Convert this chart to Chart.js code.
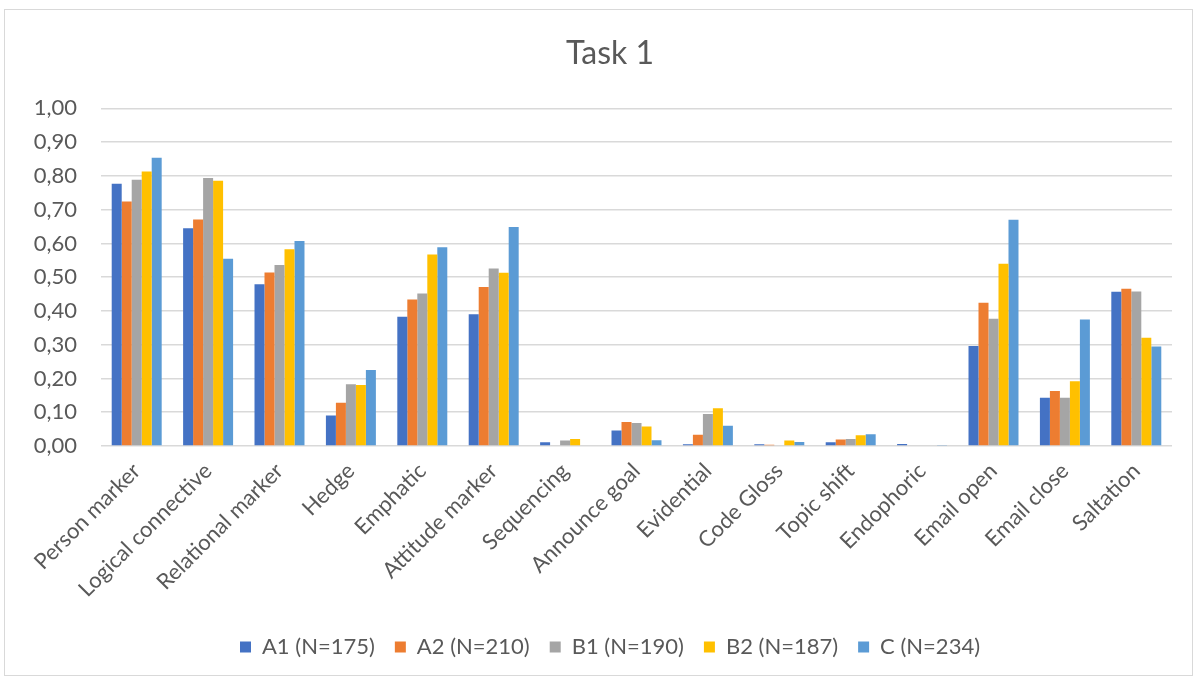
<!DOCTYPE html>
<html>
<head>
<meta charset="utf-8">
<title>Task 1</title>
<script src="https://cdn.jsdelivr.net/npm/chart.js@4/dist/chart.umd.min.js"></script>
<style>
  html, body { margin: 0; padding: 0; background: #ffffff; }
  #wrap { position: relative; width: 1197px; height: 680px; }
</style>
</head>
<body>
<div id="wrap"><canvas id="chart" width="1197" height="680"></canvas></div>
<script>
// Discourse-marker categories
const categories = [
  'Person marker', 'Logical connective', 'Relational marker', 'Hedge', 'Emphatic',
  'Attitude marker', 'Sequencing', 'Announce goal', 'Evidential', 'Code Gloss',
  'Topic shift', 'Endophoric', 'Email open', 'Email close', 'Saltation'
];

// Mean frequency per proficiency group
const seriesNames = ['A1 (N=175)', 'A2 (N=210)', 'B1 (N=190)', 'B2 (N=187)', 'C (N=234)'];
const a1 = [0.777, 0.645, 0.479, 0.090, 0.383, 0.390, 0.011, 0.046, 0.005, 0.005, 0.011, 0.006, 0.296, 0.143, 0.457];
const a2 = [0.724, 0.671, 0.514, 0.128, 0.434, 0.471, 0.000, 0.071, 0.033, 0.004, 0.019, 0.000, 0.424, 0.163, 0.466];
const b1 = [0.789, 0.794, 0.536, 0.183, 0.452, 0.526, 0.016, 0.068, 0.095, 0.000, 0.021, 0.000, 0.377, 0.143, 0.458];
const b2 = [0.813, 0.786, 0.583, 0.181, 0.567, 0.513, 0.021, 0.058, 0.112, 0.016, 0.032, 0.000, 0.540, 0.192, 0.321];
const c  = [0.854, 0.555, 0.607, 0.225, 0.589, 0.649, 0.000, 0.017, 0.060, 0.012, 0.035, 0.003, 0.670, 0.375, 0.295];

// Value axis labels (decimal comma)
const yTickLabels = ['0,00', '0,10', '0,20', '0,30', '0,40', '0,50', '0,60', '0,70', '0,80', '0,90', '1,00'];

const colors = ['#4472C4', '#ED7D31', '#A5A5A5', '#FFC000', '#5B9BD5'];
const values = [a1, a2, b1, b2, c];

const textColor = '#595959';
const fontFamily = 'Lato, "Open Sans", sans-serif';

// White background plus the light outer frame
const framePlugin = {
  id: 'frame',
  beforeDraw(chart) {
    const ctx = chart.ctx;
    ctx.save();
    ctx.fillStyle = '#ffffff';
    ctx.fillRect(0, 0, chart.width, chart.height);
    ctx.strokeStyle = '#d9d9d9';
    ctx.lineWidth = 1;
    ctx.strokeRect(4.5, 9.5, 1188, 666);
    ctx.restore();
  }
};

new Chart(document.getElementById('chart'), {
  type: 'bar',
  data: {
    labels: categories,
    datasets: seriesNames.map((name, i) => ({
      label: name,
      data: values[i],
      backgroundColor: colors[i],
      borderWidth: 0,
      categoryPercentage: 0.7,
      barPercentage: 1.0
    }))
  },
  options: {
    responsive: false,
    animation: false,
    layout: { padding: { left: 23, right: 0, top: 22, bottom: 12 } },
    plugins: {
      title: {
        display: true,
        text: 'Task 1',
        color: textColor,
        font: { family: fontFamily, size: 32, weight: 'normal' },
        padding: { top: 12, bottom: 36 }
      },
      legend: {
        position: 'bottom',
        labels: {
          color: textColor,
          font: { family: fontFamily, size: 22 },
          boxWidth: 11,
          boxHeight: 11,
          padding: 20
        }
      },
      tooltip: { enabled: false }
    },
    scales: {
      x: {
        grid: { display: false },
        border: { display: false },
        ticks: {
          color: textColor,
          font: { family: fontFamily, size: 22 },
          maxRotation: 45,
          minRotation: 45,
          autoSkip: false,
          padding: 4
        },
        // fixed label band under the plot; rotated labels may hang past the value axis
        afterFit(scale) {
          scale.paddingLeft = 0;
          scale.paddingRight = 25;
          scale.height = 170;
        }
      },
      y: {
        min: 0,
        max: 1,
        grid: { color: '#d9d9d9', lineWidth: 1.5, drawTicks: false },
        border: { display: false },
        ticks: {
          stepSize: 0.1,
          color: textColor,
          font: { family: fontFamily, size: 22 },
          padding: 24,
          callback: (value, index) => yTickLabels[index]
        },
        afterFit(scale) {
          scale.width = 78;
        }
      }
    }
  },
  plugins: [framePlugin]
});
</script>
</body>
</html>
